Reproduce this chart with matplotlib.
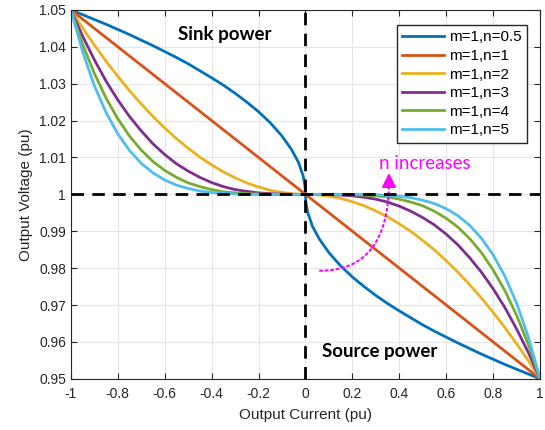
import numpy as np
import matplotlib.pyplot as plt

# Output current (pu), left half and right half
i_left = [-1.0, -0.95, -0.9, -0.85, -0.8, -0.75, -0.7, -0.65, -0.6, -0.55, -0.5,
          -0.45, -0.4, -0.35, -0.3, -0.25, -0.2, -0.15, -0.1, -0.06, -0.03, -0.01,
          -0.002, 0.0]
i_right = [0.0, 0.002, 0.01, 0.03, 0.06, 0.1, 0.15, 0.2, 0.25, 0.3, 0.35, 0.4,
           0.45, 0.5, 0.55, 0.6, 0.65, 0.7, 0.75, 0.8, 0.85, 0.9, 0.95, 1.0]

# Output voltage (pu)
v_n05_left = [1.05, 1.0487, 1.0474, 1.0461, 1.0447, 1.0433, 1.0418, 1.0403, 1.0387,
              1.0371, 1.0354, 1.0335, 1.0316, 1.0296, 1.0274, 1.0250, 1.0224, 1.0194,
              1.0158, 1.0122, 1.0087, 1.0050, 1.0022, 1.0]
v_n05_right = [1.0, 0.9978, 0.9950, 0.9913, 0.9878, 0.9842, 0.9806, 0.9776, 0.9750,
               0.9726, 0.9704, 0.9684, 0.9665, 0.9646, 0.9629, 0.9613, 0.9597, 0.9582,
               0.9567, 0.9553, 0.9539, 0.9526, 0.9513, 0.95]

v_n1_left = [1.05, 1.0475, 1.045, 1.0425, 1.04, 1.0375, 1.035, 1.0325, 1.03, 1.0275,
             1.025, 1.0225, 1.02, 1.0175, 1.015, 1.0125, 1.01, 1.0075, 1.005, 1.003,
             1.0015, 1.0005, 1.0001, 1.0]
v_n1_right = [1.0, 0.9999, 0.9995, 0.9985, 0.997, 0.995, 0.9925, 0.99, 0.9875, 0.985,
              0.9825, 0.98, 0.9775, 0.975, 0.9725, 0.97, 0.9675, 0.965, 0.9625, 0.96,
              0.9575, 0.955, 0.9525, 0.95]

v_n2_left = [1.05, 1.0451, 1.0405, 1.0361, 1.032, 1.0281, 1.0245, 1.0211, 1.018,
             1.0151, 1.0125, 1.0101, 1.008, 1.0061, 1.0045, 1.0031, 1.002, 1.0011,
             1.0005, 1.0002, 1.00005, 1.0, 1.0, 1.0]
v_n2_right = [1.0, 1.0, 1.0, 0.99995, 0.9998, 0.9995, 0.9989, 0.998, 0.9969, 0.9955,
              0.9939, 0.992, 0.9899, 0.9875, 0.9849, 0.982, 0.9789, 0.9755, 0.9719,
              0.968, 0.9639, 0.9595, 0.9549, 0.95]

v_n3_left = [1.05, 1.0429, 1.0365, 1.0307, 1.0256, 1.0211, 1.0172, 1.0137, 1.0108,
             1.0083, 1.0063, 1.0046, 1.0032, 1.0021, 1.0013, 1.0008, 1.0004, 1.0002,
             1.00005, 1.0, 1.0, 1.0, 1.0, 1.0]
v_n3_right = [1.0, 1.0, 1.0, 1.0, 1.0, 0.99995, 0.9998, 0.9996, 0.9992, 0.9987,
              0.9979, 0.9968, 0.9954, 0.9937, 0.9917, 0.9892, 0.9863, 0.9828, 0.9789,
              0.9744, 0.9693, 0.9635, 0.9571, 0.95]

v_n4_left = [1.05, 1.0407, 1.0328, 1.0261, 1.0205, 1.0158, 1.012, 1.0089, 1.0065,
             1.0046, 1.0031, 1.0021, 1.0013, 1.0007, 1.0004, 1.0002, 1.0001, 1.0,
             1.0, 1.0, 1.0, 1.0, 1.0, 1.0]
v_n4_right = [1.0, 1.0, 1.0, 1.0, 1.0, 1.0, 1.0, 0.9999, 0.9998, 0.9996, 0.9993,
              0.9987, 0.9979, 0.9969, 0.9954, 0.9935, 0.9911, 0.988, 0.9842, 0.9795,
              0.9739, 0.9672, 0.9593, 0.95]

v_n5_left = [1.05, 1.0387, 1.0295, 1.0222, 1.0164, 1.0119, 1.0084, 1.0058, 1.0039,
             1.0025, 1.0016, 1.0009, 1.0005, 1.0003, 1.0001, 1.0, 1.0, 1.0, 1.0,
             1.0, 1.0, 1.0, 1.0, 1.0]
v_n5_right = [1.0, 1.0, 1.0, 1.0, 1.0, 1.0, 1.0, 1.0, 1.0, 0.9999, 0.9997, 0.9995,
              0.9991, 0.9984, 0.9975, 0.9961, 0.9942, 0.9916, 0.9881, 0.9836, 0.9778,
              0.9705, 0.9613, 0.95]

labels = ['m=1,n=0.5', 'm=1,n=1', 'm=1,n=2', 'm=1,n=3', 'm=1,n=4', 'm=1,n=5']
colors = ['#0072BD', '#D95319', '#EDB120', '#7E2F8E', '#77AC30', '#4DBEEE']
curves = [(v_n05_left, v_n05_right), (v_n1_left, v_n1_right), (v_n2_left, v_n2_right),
          (v_n3_left, v_n3_right), (v_n4_left, v_n4_right), (v_n5_left, v_n5_right)]

plt.rcParams['font.family'] = ['Liberation Sans', 'DejaVu Sans']

fig = plt.figure(figsize=(5.45, 4.3), dpi=100)
ax = fig.add_axes([0.130, 0.119, 0.861, 0.858])

for (vl, vr), lab, c in zip(curves, labels, colors):
    ax.plot(i_left + i_right[1:], vl + vr[1:], color=c, lw=2, label=lab)

ax.axhline(1.0, color='black', lw=2, ls=(0, (4.5, 3)), zorder=5)
ax.axvline(0.0, color='black', lw=2, ls=(0, (4.5, 3)), zorder=5)

ax.set_xlim(-1, 1)
ax.set_ylim(0.95, 1.05)
ax.set_xticks(np.arange(-1, 1.01, 0.2))
ax.set_xticklabels(['-1', '-0.8', '-0.6', '-0.4', '-0.2', '0', '0.2', '0.4', '0.6', '0.8', '1'])
ax.set_yticks(np.arange(0.95, 1.051, 0.01))
ax.set_yticklabels(['0.95', '0.96', '0.97', '0.98', '0.99', '1', '1.01', '1.02', '1.03', '1.04', '1.05'])
ax.tick_params(direction='in', top=True, right=True, labelsize=10, length=4, width=0.8,
               colors='#262626')
ax.tick_params(axis='x', pad=6)
ax.grid(True, color='#e6e6e6', lw=0.8)
for s in ax.spines.values():
    s.set_color('#262626')
    s.set_linewidth(0.8)

ax.set_xlabel('Output Current (pu)', fontsize=11, color='#262626', labelpad=5)
ax.set_ylabel('Output Voltage (pu)', fontsize=11, color='#262626', labelpad=4)

ax.legend(loc='upper right', bbox_to_anchor=(0.972, 0.959), borderaxespad=0,
          fontsize=11, frameon=True, fancybox=False, edgecolor='#262626',
          framealpha=1, handlelength=2.75, borderpad=0.35, labelspacing=0.3,
          handletextpad=0.3)

ax.text(-0.343, 1.0432, 'Sink power', fontsize=13.5, fontweight='bold', family='Lato',
        ha='center', va='center')
ax.text(0.318, 0.9573, 'Source power', fontsize=13.5, fontweight='bold', family='Lato',
        ha='center', va='center')
ax.text(0.51, 1.0085, 'n increases', fontsize=13.5, color='magenta', family='Lato',
        ha='center', va='center')

# dotted curved shaft, then a solid head on top
ax.annotate('', xy=(0.356, 1.0035), xytext=(0.062, 0.9793),
            arrowprops=dict(arrowstyle='-', color='magenta', lw=1.5, ls=':',
                            connectionstyle='angle3,angleA=0,angleB=90',
                            shrinkA=0, shrinkB=0))
ax.annotate('', xy=(0.356, 1.0058), xytext=(0.356, 1.0030),
            arrowprops=dict(arrowstyle='-|>,head_length=0.6,head_width=0.3',
                            color='magenta', lw=1.5, shrinkA=0, shrinkB=0,
                            mutation_scale=14))

fig.savefig('out.png', dpi=100)
